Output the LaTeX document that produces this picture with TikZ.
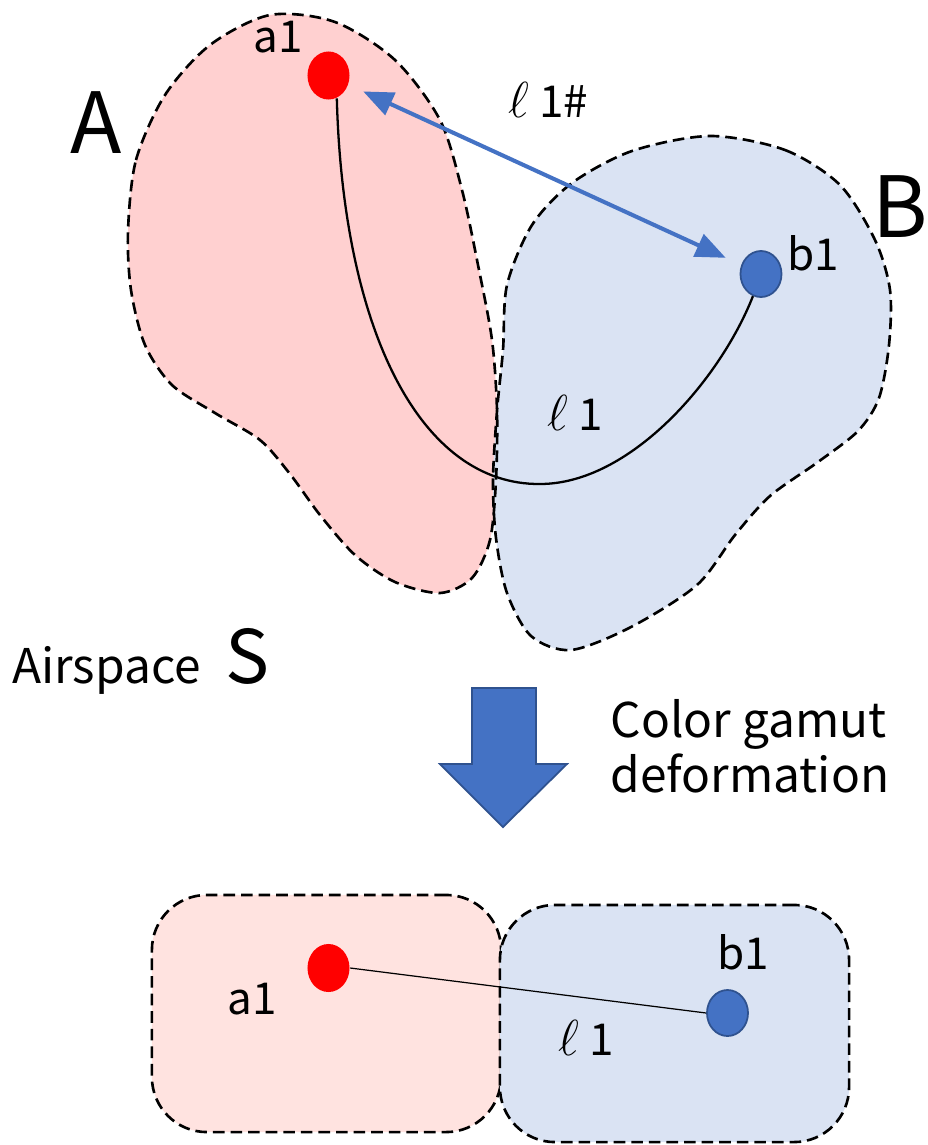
\documentclass[tikz,border=0pt]{standalone}
\usepackage{fontspec}
\setmainfont{Noto Sans CJK JP}
\usepackage{tikz}
\usetikzlibrary{arrows.meta, shapes.geometric}

\definecolor{regionred}{HTML}{FFD0D0}
\definecolor{regionredlight}{HTML}{FFE3E0}
\definecolor{regionblue}{HTML}{DAE3F3}
\definecolor{dotblue}{HTML}{4472C4}
\definecolor{dotblueedge}{HTML}{2F528F}

% outlines of the two regions in the airspace
\newcommand{\blobA}{plot[smooth cycle] coordinates {(128,231) (136,160) (165,95) (210,45) (270,15) (335,22) (395,60) (440,120) (462,190) (478,265) (492,340) (497,410) (496,480) (490,540) (472,578) (440,593) (395,582) (355,555) (320,515) (290,474) (260,440) (215,413) (172,385) (145,345) (131,290)}}
\newcommand{\blobB}{plot[smooth cycle] coordinates {(710,136) (785,150) (840,185) (875,240) (890,290) (889,345) (879,398) (858,431) (818,462) (770,496) (735,535) (697,585) (631,627) (571,650) (531,636) (507,593) (496,538) (493,480) (497,411) (503,350) (507,285) (532,225) (572,183) (632,151)}}
\newcommand{\ellsym}{{\fontsize{15pt}{15pt}\selectfont$\ell$}}

\begin{document}
\begin{tikzpicture}[x=0.01cm, y=-0.01cm, >=Stealth,
  region/.style={draw=black, dash pattern=on 3.3pt off 1.7pt, line width=0.75pt},
  reddot/.style={ellipse, fill=red, minimum width=0.42cm, minimum height=0.48cm, inner sep=0pt},
  bluedot/.style={ellipse, draw=dotblueedge, line width=0.5pt, fill=dotblue, minimum width=0.41cm, minimum height=0.46cm, inner sep=0pt},
  lbl/.style={font=\fontsize{12.5pt}{15pt}\selectfont, inner sep=0pt, anchor=base},
  setname/.style={font=\fontsize{24pt}{28pt}\selectfont, inner sep=0pt, anchor=base}]
  \useasboundingbox (0,0) rectangle (928,1145);

  % airspace S before deformation
  \fill[regionred] \blobA;
  \fill[regionblue] \blobB;
  \draw[region] \blobA;
  \draw[region] \blobB;

  \node[setname] (setA) at (96,153) {A};
  \node[setname] (setB) at (900,237) {B};

  \node[reddot] (a1dot) at (328.5,75.5) {};
  \node[bluedot] (b1dot) at (761,274) {};
  \node[lbl] (a1lbl) at (278.5,52) {a1};
  \node[lbl] (b1lbl) at (813.5,270) {b1};

  \coordinate (l1low) at (540,484);
  \draw[line width=0.65pt] (a1dot.-70) .. controls (343,330) and (420,485) .. (l1low) .. controls (630,484) and (720,380) .. (b1dot.-110);
  \node[lbl] (l1lbl) at (575.5,430) {\ellsym{} 1};

  \draw[{Triangle[length=0.3cm,width=0.24cm]}-{Triangle[length=0.3cm,width=0.24cm]}, dotblue, line width=1.15pt, shorten <=0.16cm, shorten >=0.17cm] (a1dot) -- (b1dot);
  \node[lbl] (l1hash) at (548.5,117) {\ellsym{} 1\#};

  \node[font=\fontsize{13.6pt}{16pt}\selectfont, inner sep=0pt, anchor=base] (airspace) at (106.5,683) {Airspace};
  \node[font=\fontsize{21pt}{25pt}\selectfont, inner sep=0pt, anchor=base] (setS) at (248,683) {S};

  % deformation arrow
  \draw[draw=dotblueedge, fill=dotblue, line width=0.5pt] (472,688) -- (536,688) -- (536,764) -- (567,764) -- (503,827) -- (440,764) -- (472,764) -- cycle;
  \node[font=\fontsize{13.6pt}{15.6pt}\selectfont, inner sep=0pt, align=left, anchor=base west] (deform) at (610,792) {Color gamut\\deformation};

  % after deformation
  \node[region, fill=regionredlight, rounded corners=0.55cm, minimum width=3.49cm, minimum height=2.37cm, inner sep=0pt] (gamutA) at (326.5,1013.5) {};
  \node[region, fill=regionblue, rounded corners=0.55cm, minimum width=3.49cm, minimum height=2.37cm, inner sep=0pt] (gamutB) at (674.5,1023.5) {};

  \node[reddot] (a1low) at (328.5,968) {};
  \node[bluedot] (b1low) at (727.5,1013) {};
  \draw[line width=0.35pt] (a1low.east) -- (b1low.west);

  \node[lbl] (a1lowlbl) at (252,1014) {a1};
  \node[lbl] (b1lowlbl) at (743,969) {b1};
  \node[lbl] (l1lowlbl) at (586,1055) {\ellsym{} 1};
\end{tikzpicture}
\end{document}
